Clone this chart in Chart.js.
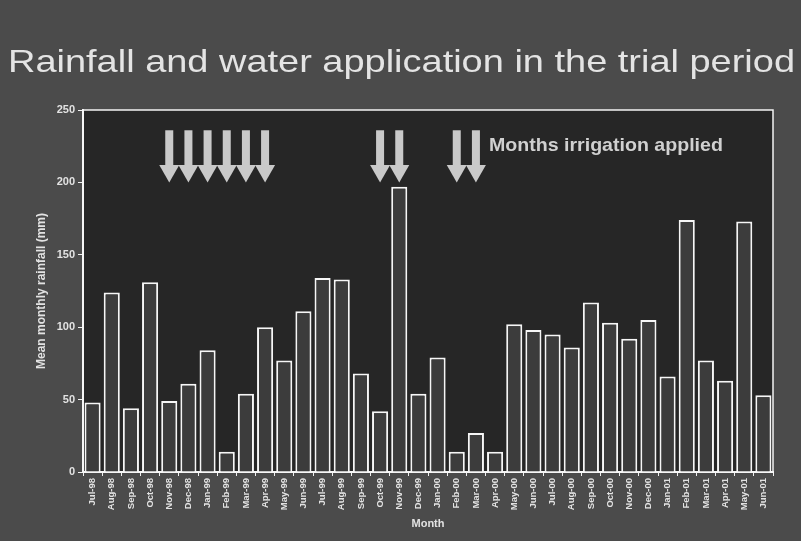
<!DOCTYPE html>
<html>
<head>
<meta charset="utf-8">
<script src="https://cdn.jsdelivr.net/npm/chart.js@4/dist/chart.umd.min.js"></script>
<style>
  body { margin: 0; background: #4b4b4b; }
  #wrap { width: 801px; height: 541px; }
</style>
</head>
<body>
<div id="wrap"><canvas id="GraficoChuva" width="801" height="541"></canvas></div>
<script>
var meses = ["Jul-98", "Aug-98", "Sep-98", "Oct-98", "Nov-98", "Dec-98", "Jan-99", "Feb-99", "Mar-99", "Apr-99", "May-99", "Jun-99",
    "Jul-99", "Aug-99", "Sep-99", "Oct-99", "Nov-99", "Dec-99", "Jan-00", "Feb-00", "Mar-00", "Apr-00", "May-00", "Jun-00",
    "Jul-00", "Aug-00", "Sep-00", "Oct-00", "Nov-00", "Dec-00", "Jan-01", "Feb-01", "Mar-01", "Apr-01", "May-01", "Jun-01"];
var chuva = [48, 124, 44, 131, 49, 61, 84, 14, 54, 100, 77, 111,
    134, 133, 68, 42, 197, 54, 79, 14, 27, 14, 102, 98,
    95, 86, 117, 103, 92, 105, 66, 174, 77, 63, 173, 53];
var mesesIrrigados = ["Nov-98", "Dec-98", "Jan-99", "Feb-99", "Mar-99", "Apr-99", "Oct-99", "Nov-99", "Feb-00", "Mar-00"];
var textoSetas = "Months irrigation applied";
var tituloGrafico = "Rainfall and water application in the trial period";

var corTexto = "#e2e2e2";
var fonte = "'Liberation Sans', Arial, sans-serif";

// fundo, titulo, moldura do grafico e setas de irrigacao
var pluginFundo = {
    id: "fundo",
    beforeDraw: function (chart) {
        var ctx = chart.ctx;
        var area = chart.chartArea;
        ctx.save();
        ctx.fillStyle = "#4b4b4b";
        ctx.fillRect(0, 0, chart.width, chart.height);
        ctx.fillStyle = "#262626";
        ctx.fillRect(area.left, area.top, area.right - area.left, area.bottom - area.top);

        // titulo esticado na largura toda, como no slide
        ctx.font = "32px " + fonte;
        ctx.fillStyle = "#e4e4e4";
        ctx.textBaseline = "middle";
        var largura = ctx.measureText(tituloGrafico).width;
        ctx.translate(8, 63);
        ctx.scale(787 / largura, 1);
        ctx.fillText(tituloGrafico, 0, 0);
        ctx.restore();
    },
    afterDraw: function (chart) {
        var ctx = chart.ctx;
        var area = chart.chartArea;
        var x = chart.scales.x;
        var y = chart.scales.y;
        ctx.save();
        ctx.strokeStyle = "#f4f4f4";
        ctx.lineWidth = 1.5;
        ctx.beginPath();
        ctx.moveTo(area.left, area.top);
        ctx.lineTo(area.right, area.top);
        ctx.lineTo(area.right, area.bottom);
        ctx.stroke();

        var topo = y.getPixelForValue(236);
        var inicioPonta = y.getPixelForValue(212);
        var fim = y.getPixelForValue(200);
        ctx.fillStyle = "#c9c9c9";
        var ultimo = 0;
        mesesIrrigados.forEach(function (m) {
            var cx = x.getPixelForValue(meses.indexOf(m));
            ultimo = Math.max(ultimo, cx);
            ctx.fillRect(cx - 4, topo, 8, inicioPonta - topo);
            ctx.beginPath();
            ctx.moveTo(cx - 10, inicioPonta);
            ctx.lineTo(cx + 10, inicioPonta);
            ctx.lineTo(cx, fim);
            ctx.closePath();
            ctx.fill();
        });
        ctx.fillStyle = "#d0d0d0";
        ctx.font = "bold 19px " + fonte;
        ctx.textBaseline = "middle";
        var w = ctx.measureText(textoSetas).width;
        ctx.translate(ultimo + 13, y.getPixelForValue(225));
        ctx.scale(234 / w, 1);
        ctx.fillText(textoSetas, 0, 0);
        ctx.restore();
    }
};

var ctx = document.getElementById("GraficoChuva").getContext("2d");
var grafico = new Chart(ctx, {
    type: "bar",
    data: {
        labels: meses,
        datasets: [{
            label: "Mean monthly rainfall (mm)",
            data: chuva,
            backgroundColor: "#3c3c3c",
            borderColor: "#f6f6f6",
            borderWidth: 2,
            barPercentage: 0.84,
            categoryPercentage: 1
        }]
    },
    options: {
        responsive: false,
        animation: false,
        layout: { padding: { left: 0, right: 28, top: 110, bottom: 0 } },
        plugins: {
            legend: { display: false },
            tooltip: { enabled: false },
            title: { display: false }
        },
        scales: {
            x: {
                grid: { display: true, drawOnChartArea: false, drawTicks: true, tickLength: 4, color: "#f0f0f0", offset: true },
                border: { display: true, color: "#f6f6f6", width: 2 },
                ticks: {
                    color: corTexto,
                    autoSkip: false,
                    minRotation: 90,
                    maxRotation: 90,
                    padding: 2,
                    font: { family: fonte, size: 9.5, weight: "bold" }
                },
                title: {
                    display: true,
                    text: "Month",
                    color: corTexto,
                    font: { family: fonte, size: 11, weight: "bold" },
                    padding: { top: 0, bottom: 10 }
                },
                afterFit: function (s) { s.height = 69; }
            },
            y: {
                min: 0,
                max: 250,
                grid: { display: true, drawOnChartArea: false, drawTicks: true, tickLength: 5, color: "#f0f0f0" },
                border: { display: true, color: "#f6f6f6", width: 2 },
                ticks: {
                    stepSize: 50,
                    color: corTexto,
                    padding: 3,
                    font: { family: fonte, size: 11, weight: "bold" }
                },
                title: {
                    display: true,
                    text: "Mean monthly rainfall (mm)",
                    color: corTexto,
                    font: { family: fonte, size: 12, weight: "bold" },
                    padding: { top: 34, bottom: 0 }
                },
                afterFit: function (s) { s.width = 83; }
            }
        }
    },
    plugins: [pluginFundo]
});
</script>
</body>
</html>
